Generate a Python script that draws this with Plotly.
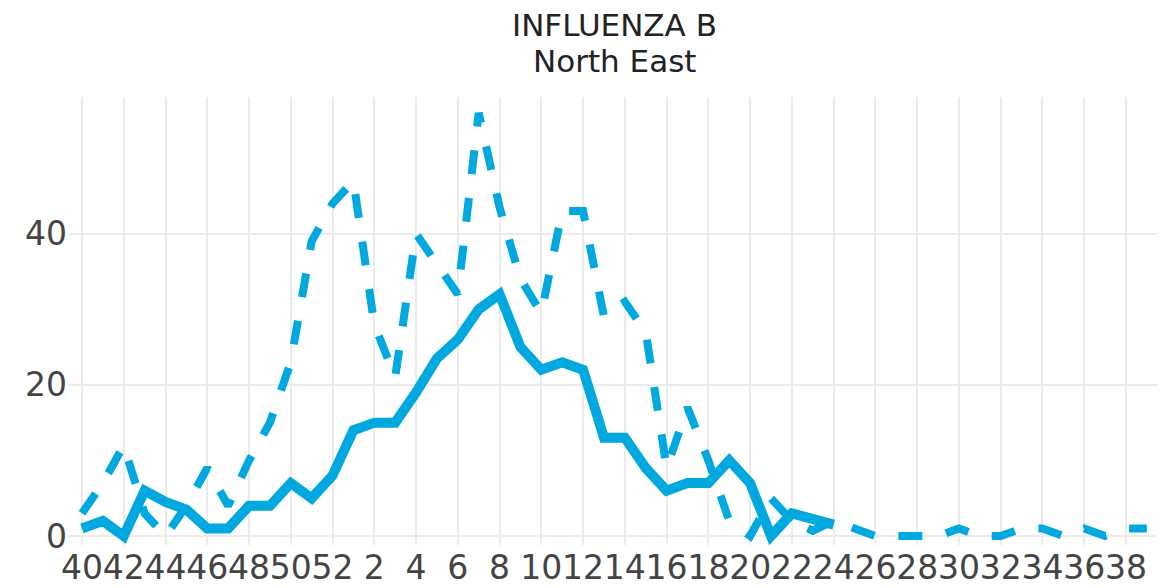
import plotly.graph_objects as go

# ISO weeks of the season: 40..52 then 1..39
weeks = list(range(40, 53)) + list(range(1, 40))

# Current season (solid) - ends at week 24
current = [1, 2, 0, 6, 4.5, 3.5, 1, 1, 4, 4, 7, 5, 8, 14, 15, 15, 19, 23.5, 26, 30,
           32, 25, 22, 23, 22, 13, 13, 9, 6, 7, 7, 10, 7, 0, 3, 2.3, 1.5]

# Previous season (dashed)
previous = [3, 7, 12, 3, 0, 4, 9, 4, 10, 15, 23, 39, 44, 47, 28, 21, 40, 36, 32, 56,
            43.5, 34, 29.5, 43, 43, 29, 31, 27, 9, 17, 10, 2, 0, 5, 2, 0.7, 2, 1, 0, 0,
            0, 0, 1, 0, 0, 1, 1, 0, 1, 0, 1, 1]

tick_weeks = [w for w in weeks if w % 2 == 0]
tick_labels = [str(w) for w in tick_weeks]

title_line1 = "INFLUENZA B"
title_line2 = "North East"

color = "#00a8e0"
font_family = "DejaVu Sans, Verdana, sans-serif"

idx = list(range(len(weeks)))
tick_idx = [weeks.index(w) for w in tick_weeks]

fig = go.Figure()
fig.add_trace(go.Scatter(
    x=idx, y=previous, mode="lines", name="Previous season",
    line=dict(color=color, width=8, dash="dash"),
))
fig.add_trace(go.Scatter(
    x=idx[:len(current)], y=current, mode="lines", name="Current season",
    line=dict(color=color, width=10),
))

# plot area in figure coords: x 60..1152, y 89..537 (height 448)
title_font = dict(family=font_family, size=31, color="#222222")
fig.add_annotation(text=title_line1, xref="paper", yref="paper", x=0.5,
                   y=(537 - 8 - 9) / 448, xanchor="center", yanchor="middle",
                   showarrow=False, font=title_font)
fig.add_annotation(text=title_line2, xref="paper", yref="paper", x=0.5,
                   y=(537 - 8 - 45) / 448, xanchor="center", yanchor="middle",
                   showarrow=False, font=title_font)

fig.update_layout(
    width=1165, height=588,
    margin=dict(l=60, r=13, t=89, b=51),
    paper_bgcolor="white", plot_bgcolor="white",
    showlegend=False,
    font=dict(family=font_family, size=33, color="#444444"),
    xaxis=dict(
        range=[-0.67, 51.63], automargin=False,
        tickmode="array", tickvals=tick_idx, ticktext=tick_labels,
        tickangle=0, showgrid=True, gridcolor="#ebebeb", gridwidth=2,
        zeroline=False, showline=False, ticks="",
    ),
    yaxis=dict(
        range=[-1.19, 58.1], automargin=False,
        tickmode="array", tickvals=[0, 20, 40],
        showgrid=True, gridcolor="#ebebeb", gridwidth=2,
        zeroline=False, showline=False, ticks="",
    ),
)

fig.write_html("out.html")
